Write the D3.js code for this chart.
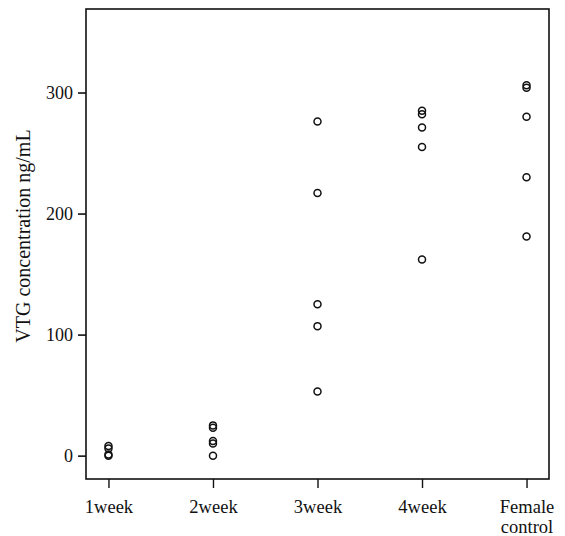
<!DOCTYPE html>
<html>
<head>
<meta charset="utf-8">
<script src="https://cdn.jsdelivr.net/npm/d3@7"></script>
<style>
  body { margin: 0; background: #fff; }
  svg text { font-family: "Liberation Serif", "DejaVu Serif", serif; fill: #111; }
</style>
</head>
<body>
<div id="chart"></div>
<script>
// groups along the x axis
var groups = ["1week", "2week", "3week", "4week", "Female control"];
// VTG values, one list per group
var week1 = [0, 1, 6, 8];
var week2 = [0, 10, 12, 23, 25];
var week3 = [53, 107, 125, 217, 276];
var week4 = [162, 255, 271, 282, 285];
var female = [181, 230, 280, 304, 306];
var yTicks = [0, 100, 200, 300];

var seriesList = [week1, week2, week3, week4, female];

var width = 565, height = 536;
// plot frame edges (note: "top" is taken by window.top, so prefixed names)
var plotL = 86, plotR = 549, plotT = 9, plotB = 479;

var svg = d3.select("#chart").append("svg")
  .attr("width", width)
  .attr("height", height);

// x: one slot per group
var x = d3.scalePoint()
  .domain(groups)
  .range([plotL, plotR])
  .padding(0.215);

// y: concentration
var y = d3.scaleLinear()
  .domain([-19.3, 369])
  .range([plotB, plotT]);

// frame round the plot
svg.append("rect")
  .attr("x", plotL)
  .attr("y", plotT)
  .attr("width", plotR - plotL)
  .attr("height", plotB - plotT)
  .attr("fill", "none")
  .attr("stroke", "#111")
  .attr("stroke-width", 1.6);

// y axis
var yAxis = d3.axisLeft(y)
  .tickValues(yTicks)
  .tickSize(8)
  .tickPadding(5);

var gy = svg.append("g")
  .attr("transform", "translate(" + plotL + ",0)")
  .call(yAxis);
gy.select(".domain").remove();
gy.selectAll("line").attr("stroke", "#111").attr("stroke-width", 1.6);
gy.selectAll("text")
  .style("font-size", "18px")
  .style("font-family", "'Liberation Serif', serif")
  .attr("fill", "#111");

// x axis
var xAxis = d3.axisBottom(x)
  .tickSize(9)
  .tickPadding(12);

var gx = svg.append("g")
  .attr("transform", "translate(0," + plotB + ")")
  .call(xAxis);
gx.select(".domain").remove();
gx.selectAll("line").attr("stroke", "#111").attr("stroke-width", 1.4);
gx.selectAll("text")
  .style("font-size", "18.5px")
  .style("font-family", "'Liberation Serif', serif")
  .attr("fill", "#111")
  .each(function(d) {
    var words = d.split(" ");
    if (words.length > 1) {
      var t = d3.select(this).text(null);
      words.forEach(function(w, i) {
        t.append("tspan")
          .attr("x", 0)
          .attr("dy", i == 0 ? "0.71em" : "1.08em")
          .text(w);
      });
    }
  });

// y label
svg.append("text")
  .attr("transform", "translate(30,236) rotate(-90)")
  .attr("text-anchor", "middle")
  .style("font-size", "20px")
  .text("VTG concentration ng/mL");

// the points
seriesList.forEach(function(vals, i) {
  svg.append("g")
    .selectAll("circle")
    .data(vals)
    .enter()
    .append("circle")
      .attr("cx", x(groups[i]))
      .attr("cy", function(d) { return y(d); })
      .attr("r", 3.5)
      .attr("fill", "none")
      .attr("stroke", "#111")
      .attr("stroke-width", 1.5);
});
</script>
</body>
</html>
